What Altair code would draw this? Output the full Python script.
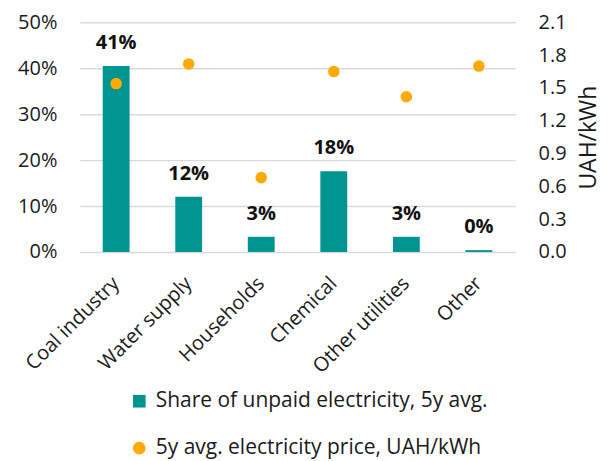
import altair as alt
import pandas as pd

categories = ["Coal industry", "Water supply", "Households", "Chemical", "Other utilities", "Other"]
share_unpaid = [40.5, 12.0, 3.3, 17.6, 3.3, 0.4]
share_labels = ["41%", "12%", "3%", "18%", "3%", "0%"]
price = [1.54, 1.72, 0.68, 1.65, 1.42, 1.70]

s1 = "Share of unpaid electricity, 5y avg."
s2 = "5y avg. electricity price, UAH/kWh"

df = pd.DataFrame({
    "cat": categories,
    "share": [v / 100 for v in share_unpaid],
    "label": share_labels,
    "price": price,
    "s1": [s1] * 6,
    "s2": [s2] * 6,
})

FONT = "Open Sans"
TEAL = "#009490"
ORANGE = "#FFAA00"
TXT = "#1a1a1a"
FS = 20

x = alt.X("cat:N", sort=categories, title=None,
          scale=alt.Scale(paddingInner=0.63, paddingOuter=0.315),
          axis=alt.Axis(labelAngle=-45, labelAlign="right", labelBaseline="middle",
                        labelPadding=28, ticks=False, domain=False, labelLimit=300,
                        labelFontSize=FS, labelColor=TXT, labelFont=FONT))

y_left = alt.Y("share:Q", title=None,
               scale=alt.Scale(domain=[0, 0.5]),
               axis=alt.Axis(format=".0%", values=[0, 0.1, 0.2, 0.3, 0.4, 0.5],
                             ticks=False, domain=False, labelPadding=23,
                             labelFontSize=FS, labelFont=FONT, labelColor=TXT,
                             gridColor="#D9D9D9", gridWidth=1.5))

shape = alt.Shape("series:N", scale=alt.Scale(domain=[s1, s2], range=["square", "circle"]), legend=None)

color = alt.Color("series:N",
                  scale=alt.Scale(domain=[s1, s2], range=[TEAL, ORANGE]),
                  legend=alt.Legend(title=None, orient="none", legendX=49, legendY=369,
                                    direction="vertical", rowPadding=25, labelLimit=600,
                                    labelFontSize=21, labelFont=FONT, labelColor=TXT,
                                    symbolSize=160, labelOffset=6))

bars = alt.Chart(df).transform_calculate(series="datum.s1").mark_bar(color=TEAL).encode(
    x=x, y=y_left, color=color, shape=shape,
)

labels = alt.Chart(df).mark_text(fontWeight="bold", fontSize=FS, font=FONT, color="#111111",
                                 dy=-23, baseline="middle").encode(
    x=x, y=y_left, text="label:N",
)

left = alt.layer(bars, labels)

points = alt.Chart(df).transform_calculate(series="datum.s2").mark_point(filled=True, size=133, opacity=1).encode(
    x=x,
    y=alt.Y("price:Q", title="UAH/kWh",
            scale=alt.Scale(domain=[0, 2.1]),
            axis=alt.Axis(orient="right", format=".1f", values=[0, 0.3, 0.6, 0.9, 1.2, 1.5, 1.8, 2.1],
                          ticks=False, domain=False, grid=False, labelPadding=23,
                          labelFontSize=FS, labelFont=FONT, labelColor=TXT,
                          titleFontSize=23, titleFont=FONT, titleFontWeight="normal",
                          titleAngle=270, titleBaseline="top", titleColor=TXT, titlePadding=11)),
    color=color, shape=shape,
)

chart = alt.layer(left, points).resolve_scale(y="independent").properties(
    width=436, height=230,
    autosize=alt.AutoSizeParams(type="none"),
    padding={"left": 72, "top": 14, "right": 90, "bottom": 209},
).configure(background="white").configure_view(stroke=None)

chart.save("out.html", embed_options={"renderer": "svg", "actions": False})
